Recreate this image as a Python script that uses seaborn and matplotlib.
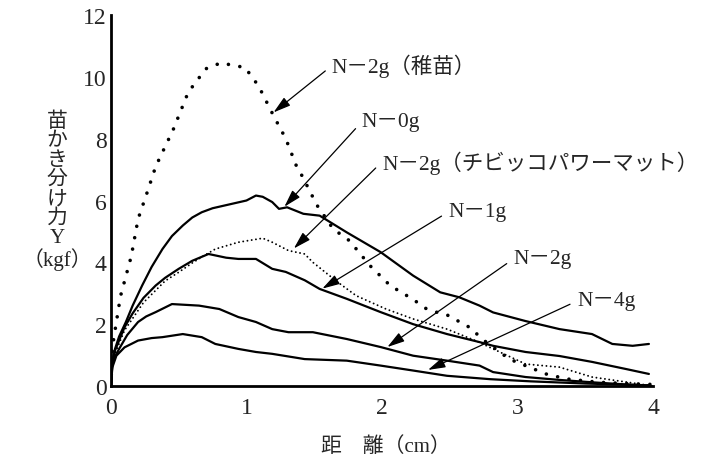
import matplotlib
matplotlib.use("Agg")
import matplotlib.pyplot as plt
import seaborn as sns
import pandas as pd

# 距離 (cm) と 苗かき分け力 Y (kgf)
x_chibyo = [0, 0.005, 0.012, 0.07, 0.15, 0.2, 0.27, 0.33, 0.46, 0.57, 0.7, 0.81, 0.99, 1.09, 1.2,
            1.29, 1.37, 1.41, 1.52, 1.64, 1.76, 1.91, 2.06, 2.23, 2.33, 2.43, 2.48, 2.67, 2.72,
            2.94, 3.21, 3.36, 3.6, 3.8, 4.0]
y_chibyo = [0, 0.8, 1.3, 2.9, 4.2, 5.4, 6.3, 7.1, 8.3, 9.5, 10.26, 10.45, 10.3, 9.7, 8.74,
            8.0, 7.1, 6.8, 5.85, 5.08, 4.7, 3.9, 3.25, 2.8, 2.49, 2.35, 2.3, 1.84, 1.58,
            0.87, 0.39, 0.23, 0.12, 0.08, 0.05]

x_n0 = [0, 0.01, 0.03, 0.06, 0.11, 0.16, 0.23, 0.3, 0.38, 0.45, 0.53, 0.6, 0.67, 0.75, 0.89,
        1.0, 1.07, 1.12, 1.19, 1.24, 1.3, 1.42, 1.54, 1.74, 1.99, 2.23, 2.43, 2.57, 2.72,
        2.82, 3.06, 3.31, 3.55, 3.7, 3.85, 3.97]
y_n0 = [0, 0.8, 1.2, 1.6, 2.07, 2.6, 3.25, 3.85, 4.43, 4.85, 5.19, 5.45, 5.62, 5.75, 5.89,
        6.0, 6.16, 6.12, 5.95, 5.73, 5.78, 5.57, 5.51, 4.97, 4.33, 3.57, 3.03, 2.87, 2.6,
        2.38, 2.1, 1.84, 1.68, 1.36, 1.3, 1.36]

x_mat = [0, 0.01, 0.03, 0.1, 0.24, 0.4, 0.5, 0.6, 0.68, 0.77, 0.94, 1.12, 1.19, 1.31, 1.43,
         1.49, 1.67, 1.81, 2.03, 2.23, 2.48, 2.7, 2.82, 3.06, 3.31, 3.55, 3.8, 4.0]
y_mat = [0, 0.7, 1.05, 1.8, 2.7, 3.4, 3.68, 3.98, 4.2, 4.43, 4.65, 4.78, 4.65, 4.38, 4.27,
         4.0, 3.37, 2.92, 2.49, 2.17, 1.84, 1.45, 1.2, 0.71, 0.61, 0.29, 0.13, 0.0]

x_n1 = [0, 0.01, 0.03, 0.1, 0.16, 0.24, 0.33, 0.4, 0.5, 0.6, 0.72, 0.85, 0.94, 1.07, 1.19,
        1.29, 1.43, 1.54, 1.74, 1.99, 2.23, 2.48, 2.72, 2.82, 3.06, 3.31, 3.55, 3.8, 3.97]
y_n1 = [0, 0.75, 1.15, 1.9, 2.35, 2.85, 3.25, 3.5, 3.79, 4.05, 4.27, 4.15, 4.11, 4.11, 3.79,
        3.69, 3.42, 3.14, 2.82, 2.39, 2.0, 1.68, 1.42, 1.3, 1.1, 0.97, 0.78, 0.55, 0.39]

x_n2 = [0, 0.01, 0.03, 0.06, 0.12, 0.2, 0.26, 0.33, 0.45, 0.65, 0.8, 0.94, 1.07, 1.19, 1.31,
        1.49, 1.74, 1.99, 2.23, 2.48, 2.72, 2.82, 3.06, 3.3, 3.55, 3.8, 3.97]
y_n2 = [0, 0.7, 0.95, 1.2, 1.65, 2.07, 2.25, 2.39, 2.65, 2.6, 2.49, 2.23, 2.07, 1.84, 1.74,
        1.74, 1.52, 1.26, 0.98, 0.82, 0.66, 0.45, 0.29, 0.2, 0.12, 0.05, 0.02]

x_n4 = [0, 0.01, 0.04, 0.1, 0.2, 0.3, 0.38, 0.53, 0.67, 0.77, 0.94, 1.07, 1.19, 1.43, 1.74,
        1.99, 2.23, 2.48, 2.8, 3.1, 3.5, 3.97]
y_n4 = [0, 0.6, 0.98, 1.25, 1.47, 1.55, 1.58, 1.68, 1.58, 1.36, 1.2, 1.1, 1.04, 0.87, 0.82,
        0.66, 0.5, 0.33, 0.22, 0.15, 0.08, 0.02]

labels = ["N－2g（稚苗）", "N－0g", "N－2g（チビッコパワーマット）", "N－1g", "N－2g", "N－4g"]
label_x = [1.63, 1.85, 2.0, 2.49, 2.97, 3.44]
label_y = [10.36, 8.54, 7.25, 5.63, 4.11, 2.75]
tip_x = [1.2, 1.28, 1.35, 1.56, 2.04, 2.34]
tip_y = [8.85, 5.8, 4.45, 3.15, 1.26, 0.52]

sns.set_style("white")
plt.rcParams["font.family"] = ["Liberation Serif", "Noto Sans CJK JP"]

fig = plt.figure(figsize=(7.05, 4.6), dpi=100)
ax = fig.add_axes([0.1574, 0.1587, 0.7688, 0.8065])

curves = [
    (x_chibyo, y_chibyo, dict(lw=2.6, linestyle=(0, (0.01, 3.2)), dash_capstyle="round")),
    (x_n0, y_n0, dict(lw=1.6)),
    (x_mat, y_mat, dict(lw=1.4, linestyle=(0, (0.01, 2.2)), dash_capstyle="round")),
    (x_n1, y_n1, dict(lw=1.6)),
    (x_n2, y_n2, dict(lw=1.6)),
    (x_n4, y_n4, dict(lw=1.6)),
]
for xs, ys, style in curves:
    df = pd.DataFrame({"x": xs, "y": ys})
    sns.lineplot(data=df, x="x", y="y", ax=ax, color="black", sort=False,
                 estimator=None, errorbar=None, **style)

for txt, lx, ly, tx, ty in zip(labels, label_x, label_y, tip_x, tip_y):
    ax.annotate(txt, xy=(tx, ty), xytext=(lx, ly), fontsize=15.5, ha="left", va="center",
                arrowprops=dict(arrowstyle="-|>,head_length=0.75,head_width=0.22",
                                color="black", lw=0.9, mutation_scale=14,
                                relpos=(0, 0.5), shrinkA=3, shrinkB=0))

ax.set_xlim(0, 4)
ax.set_ylim(0, 12)
ax.set_xticks([0, 1, 2, 3, 4])
ax.set_yticks([0, 2, 4, 6, 8, 10, 12])
ax.tick_params(axis="both", direction="in", length=5, width=1.2, labelsize=17, color="black")
ax.tick_params(axis="y", pad=3)
ax.tick_params(axis="x", pad=8)
ax.set_xlabel("")
ax.set_ylabel("")
for side in ["top", "right"]:
    ax.spines[side].set_visible(False)
for side in ["left", "bottom"]:
    ax.spines[side].set_linewidth(2)
    ax.spines[side].set_color("black")

fig.text(57 / 705, 0.583, "苗\nか\nき\n分\nけ\n力\nY\n（kgf）", fontsize=15, ha="center",
         va="center", multialignment="center", linespacing=1.02)
fig.text(0.548, 0.027, "距　離（cm）", fontsize=15, ha="center", va="center")

fig.savefig("out.png", dpi=100)
